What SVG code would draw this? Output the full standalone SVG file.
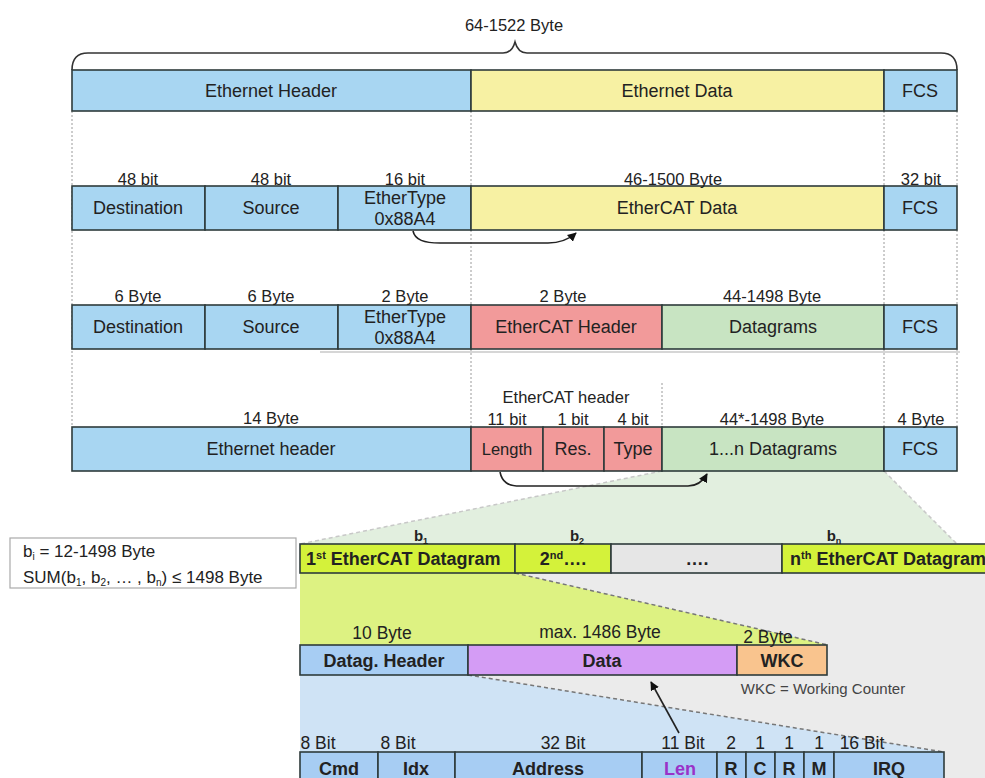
<svg xmlns="http://www.w3.org/2000/svg" width="985" height="778" viewBox="0 0 985 778">
<defs>
<style>
text{font-family:"Liberation Sans",Arial,sans-serif;fill:#222}
.c{text-anchor:middle}
.t{font-size:18px}
.l{font-size:16.5px}
.b{font-size:18px;font-weight:bold}
.bl{font-size:17.5px}
.box{stroke:#2e3b3b;stroke-width:1.6}
.blue{fill:#a8d6f2}.yel{fill:#f7f1a3}.red{fill:#f29a9a}.grn{fill:#c8e4c2}
.lime{fill:#d4f23a}.vio{fill:#d49cf5}.org{fill:#f9c48e}.bb{fill:#a7cdf3}
.dot{stroke:#9a9a9a;stroke-width:1;stroke-dasharray:2 2;fill:none}
.dash{stroke:#777;stroke-width:1.5;stroke-dasharray:4 3;fill:none}
.arr{stroke:#222;stroke-width:1.6;fill:none}
</style>
<marker id="ah" viewBox="0 0 10 10" refX="9" refY="5" markerWidth="9" markerHeight="9" orient="auto" markerUnits="userSpaceOnUse">
<path d="M0,0 L10,5 L0,10 z" fill="#111"/>
</marker>
</defs>

<!-- background zoom regions -->
<g id="zoom-areas">
<polygon points="662,471 884,471 957,544 300,544" fill="#e2efdf"/>
<line x1="662" y1="471" x2="300" y2="544" style="stroke:#c8c8c8;stroke-width:1.5;stroke-dasharray:4 3"/>
<line x1="884" y1="471" x2="957" y2="544" style="stroke:#c8c8c8;stroke-width:1.5;stroke-dasharray:4 3"/>
<rect x="300" y="573" width="685" height="205" fill="#ebebeb"/>
<polygon points="300,573 515,573 828,645 300,645" fill="#ddf282"/>
<line x1="515" y1="573" x2="828" y2="645" class="dash"/>
<polygon points="300,675 468,675 944,752 300,752" fill="#cfe3f5"/>
<line x1="468" y1="675" x2="944" y2="752" class="dash"/>
</g>

<!-- dotted guides -->
<g id="guides">
<line x1="72" y1="111" x2="72" y2="427" class="dot"/>
<line x1="471" y1="111" x2="471" y2="186" class="dot"/>
<line x1="471" y1="230" x2="471" y2="305" class="dot"/>
<line x1="471" y1="349" x2="471" y2="427" class="dot"/>
<line x1="884" y1="111" x2="884" y2="186" class="dot"/>
<line x1="884" y1="230" x2="884" y2="305" class="dot"/>
<line x1="884" y1="349" x2="884" y2="427" class="dot"/>
<line x1="957" y1="111" x2="957" y2="186" class="dot"/>
<line x1="957" y1="230" x2="957" y2="305" class="dot"/>
<line x1="957" y1="349" x2="957" y2="427" class="dot"/>
<line x1="662" y1="383" x2="662" y2="427" class="dot"/>
<line x1="320" y1="352" x2="960" y2="352" stroke="#c8c8c8" stroke-width="1.5"/>
</g>

<!-- brace -->
<g id="brace">
<path d="M72,70 Q72,53 88,53 L503,53 Q512,53 515,42 Q518,53 527,53 L941,53 Q957,53 957,70" fill="none" stroke="#333" stroke-width="1.6"/>
<text x="514" y="31" class="c l">64-1522 Byte</text>
</g>

<!-- row 1 -->
<g id="row1">
<rect x="72" y="70" width="399" height="41" class="box blue"/>
<rect x="471" y="70" width="413" height="41" class="box yel"/>
<rect x="884" y="70" width="73" height="41" class="box blue"/>
<text x="271" y="97" class="c t">Ethernet Header</text>
<text x="677" y="97" class="c t">Ethernet Data</text>
<text x="920" y="97" class="c t">FCS</text>
</g>

<!-- row 2 -->
<g id="row2">
<rect x="72" y="186" width="133" height="44" class="box blue"/>
<rect x="205" y="186" width="133" height="44" class="box blue"/>
<rect x="338" y="186" width="133" height="44" class="box blue"/>
<rect x="471" y="186" width="413" height="44" class="box yel"/>
<rect x="884" y="186" width="73" height="44" class="box blue"/>
<text x="138" y="214" class="c t">Destination</text>
<text x="271" y="214" class="c t">Source</text>
<text x="405" y="204" class="c t">EtherType</text>
<text x="405" y="225" class="c t">0x88A4</text>
<text x="677" y="214" class="c t">EtherCAT Data</text>
<text x="920" y="214" class="c t">FCS</text>
<text x="138" y="185" class="c l">48 bit</text>
<text x="271" y="185" class="c l">48 bit</text>
<text x="405" y="185" class="c l">16 bit</text>
<text x="673" y="185" class="c l">46-1500 Byte</text>
<text x="921" y="185" class="c l">32 bit</text>
</g>

<!-- row 3 -->
<g id="row3">
<rect x="72" y="305" width="133" height="44" class="box blue"/>
<rect x="205" y="305" width="133" height="44" class="box blue"/>
<rect x="338" y="305" width="133" height="44" class="box blue"/>
<rect x="471" y="305" width="191" height="44" class="box red"/>
<rect x="662" y="305" width="222" height="44" class="box grn"/>
<rect x="884" y="305" width="73" height="44" class="box blue"/>
<text x="138" y="333" class="c t">Destination</text>
<text x="271" y="333" class="c t">Source</text>
<text x="405" y="323" class="c t">EtherType</text>
<text x="405" y="344" class="c t">0x88A4</text>
<text x="566" y="333" class="c t">EtherCAT Header</text>
<text x="773" y="333" class="c t">Datagrams</text>
<text x="920" y="333" class="c t">FCS</text>
<text x="138" y="302" class="c l">6 Byte</text>
<text x="271" y="302" class="c l">6 Byte</text>
<text x="405" y="302" class="c l">2 Byte</text>
<text x="563" y="302" class="c l">2 Byte</text>
<text x="772" y="302" class="c l">44-1498 Byte</text>
</g>

<!-- row 4 -->
<g id="row4">
<rect x="72" y="427" width="399" height="44" class="box blue"/>
<rect x="471" y="427" width="72" height="44" class="box red"/>
<rect x="543" y="427" width="61" height="44" class="box red"/>
<rect x="604" y="427" width="58" height="44" class="box red"/>
<rect x="662" y="427" width="222" height="44" class="box grn"/>
<rect x="884" y="427" width="73" height="44" class="box blue"/>
<text x="271" y="455" class="c t">Ethernet header</text>
<text x="507" y="455" class="c" style="font-size:16.5px">Length</text>
<text x="573" y="455" class="c t">Res.</text>
<text x="633" y="455" class="c t">Type</text>
<text x="773" y="455" class="c t">1...n Datagrams</text>
<text x="920" y="455" class="c t">FCS</text>
<text x="566" y="403" class="c l">EtherCAT header</text>
<text x="271" y="424" class="c l">14 Byte</text>
<text x="507" y="425" class="c l">11 bit</text>
<text x="573" y="425" class="c l">1 bit</text>
<text x="633" y="425" class="c l">4 bit</text>
<text x="772" y="425" class="c l">44*-1498 Byte</text>
<text x="921" y="425" class="c l">4 Byte</text>
</g>

<!-- note box -->
<g id="note">
<rect x="10" y="538" width="286" height="50" fill="#fff" stroke="#aaa" stroke-width="1.2"/>
<text x="23" y="557" style="font-size:17px">b<tspan dy="3" style="font-size:10px">i</tspan><tspan dy="-3"> = 12-1498 Byte</tspan></text>
<text x="23" y="583" style="font-size:17px">SUM(b<tspan dy="3" style="font-size:10px">1</tspan><tspan dy="-3">, b</tspan><tspan dy="3" style="font-size:10px">2</tspan><tspan dy="-3">, … , b</tspan><tspan dy="3" style="font-size:10px">n</tspan><tspan dy="-3">) ≤ 1498 Byte</tspan></text>
</g>

<!-- datagram row -->
<g id="datagrams">
<rect x="300" y="544" width="215" height="29" class="box lime"/>
<rect x="515" y="544" width="96" height="29" class="box lime"/>
<rect x="611" y="544" width="171" height="29" class="box" fill="#e6e6e6"/>
<rect x="782" y="544" width="210" height="29" class="box lime"/>
<text x="306" y="565" class="b">1<tspan dy="-6" style="font-size:11px">st</tspan><tspan dy="6"> EtherCAT Datagram</tspan></text>
<text x="563" y="565" class="c b">2<tspan dy="-6" style="font-size:11px">nd</tspan><tspan dy="6">….</tspan></text>
<text x="697" y="565" class="c b">….</text>
<text x="790" y="565" class="b">n<tspan dy="-6" style="font-size:11px">th</tspan><tspan dy="6"> EtherCAT Datagram</tspan></text>
<text x="421" y="541" class="c" style="font-size:15px;font-weight:bold">b<tspan dy="3" style="font-size:9px">1</tspan></text>
<text x="577" y="541" class="c" style="font-size:15px;font-weight:bold">b<tspan dy="3" style="font-size:9px">2</tspan></text>
<text x="834" y="541" class="c" style="font-size:15px;font-weight:bold">b<tspan dy="3" style="font-size:9px">n</tspan></text>
</g>

<!-- datagram structure -->
<g id="datagram">
<rect x="300" y="645" width="168" height="30" class="box" fill="#a7cdf3"/>
<rect x="468" y="645" width="269" height="30" class="box vio"/>
<rect x="737" y="645" width="90" height="30" class="box org"/>
<text x="384" y="667" class="c b">Datag. Header</text>
<text x="602" y="667" class="c b">Data</text>
<text x="782" y="667" class="c b">WKC</text>
<text x="382" y="639" class="c bl">10 Byte</text>
<text x="600" y="638" class="c bl">max. 1486 Byte</text>
<text x="768" y="643" class="c bl">2 Byte</text>
<text x="823" y="694" class="c" style="font-size:15px;fill:#444">WKC = Working Counter</text>
</g>

<!-- datagram header -->
<g id="header">
<rect x="300" y="752" width="78" height="30" class="box bb"/>
<rect x="378" y="752" width="77" height="30" class="box bb"/>
<rect x="455" y="752" width="187" height="30" class="box bb"/>
<rect x="642" y="752" width="75" height="30" class="box bb"/>
<rect x="717" y="752" width="29" height="30" class="box bb"/>
<rect x="746" y="752" width="29" height="30" class="box bb"/>
<rect x="775" y="752" width="29" height="30" class="box bb"/>
<rect x="804" y="752" width="30" height="30" class="box bb"/>
<rect x="834" y="752" width="110" height="30" class="box bb"/>
<text x="339" y="775" class="c b">Cmd</text>
<text x="416" y="775" class="c b">Idx</text>
<text x="548" y="775" class="c b">Address</text>
<text x="680" y="775" class="c b" style="fill:#9a32c8">Len</text>
<text x="731" y="775" class="c b">R</text>
<text x="760" y="775" class="c b">C</text>
<text x="789" y="775" class="c b">R</text>
<text x="819" y="775" class="c b">M</text>
<text x="889" y="775" class="c b">IRQ</text>
<text x="318" y="749" class="c bl">8 Bit</text>
<text x="398" y="749" class="c bl">8 Bit</text>
<text x="563" y="749" class="c bl">32 Bit</text>
<text x="683" y="749" class="c bl">11 Bit</text>
<text x="731" y="749" class="c bl">2</text>
<text x="760" y="749" class="c bl">1</text>
<text x="789" y="749" class="c bl">1</text>
<text x="819" y="749" class="c bl">1</text>
<text x="862" y="749" class="c bl">16 Bit</text>
</g>

<!-- connectors -->
<g id="connectors">
<path d="M413,231 C415,240 424,243 440,243 L548,243 C560,243 568,240 576,233" class="arr" marker-end="url(#ah)"/>
<path d="M500,472 C502,482 508,486 520,486 L688,486 C698,486 703,481 707,474" class="arr" marker-end="url(#ah)"/>
<path d="M679,733 L651,682" class="arr" stroke-width="1.3" marker-end="url(#ah)"/>
</g>
</svg>
